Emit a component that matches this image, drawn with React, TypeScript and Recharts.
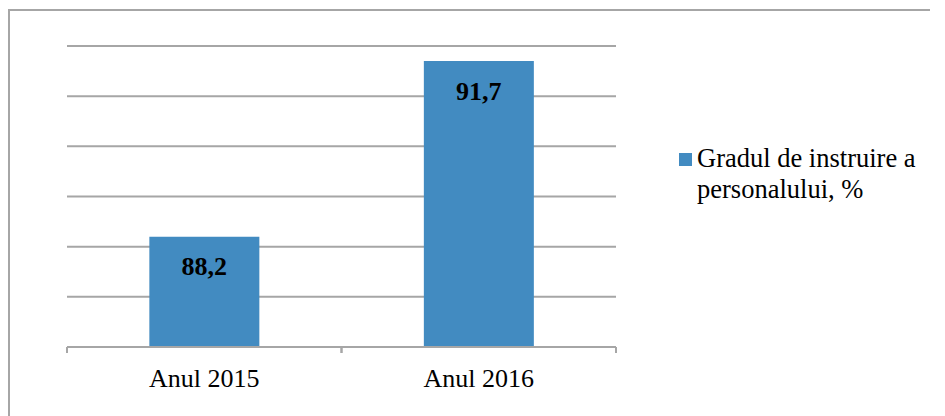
import React from 'react';
import { BarChart, Bar, XAxis, YAxis, CartesianGrid, Legend, LabelList } from 'recharts';

// Date
const categories = ['Anul 2015', 'Anul 2016'];
const values = [88.2, 91.7];
const seriesName = 'Gradul de instruire a personalului, %';
const yTicks = [86, 87, 88, 89, 90, 91, 92];

const data = categories.map((name, i) => ({ name, value: values[i] }));

const FONT = "'Liberation Serif', 'DejaVu Serif', serif";
const GRID = '#a6a6a6';
const BAR = '#428bc1';

const W = 900;
const H = 396;
const margin = { top: 35, right: 294, bottom: 0, left: 57 };
const halfBand = (W - margin.left - margin.right) / categories.length / 2;

const fmt = (v: any) => Number(v).toFixed(1).replace('.', ',');

// tick cu liniute la marginile categoriilor, ca in Excel
const AxisTick = (props: any) => {
  const { x, y, payload } = props;
  return (
    <g>
      <line x1={x - halfBand} x2={x - halfBand} y1={y - 6} y2={y} stroke={GRID} strokeWidth={2} />
      <line x1={x + halfBand} x2={x + halfBand} y1={y - 6} y2={y} stroke={GRID} strokeWidth={2} />
      <text x={x} y={y + 34} textAnchor="middle" style={{ fontFamily: FONT }} fontSize={26} fill="#000">
        {payload.value}
      </text>
    </g>
  );
};

const LegendBox = () => (
  <div style={{ display: 'flex', alignItems: 'flex-start', fontFamily: FONT, fontSize: 26.5, lineHeight: '31px', color: '#000' }}>
    <div style={{ width: 13, height: 13, background: BAR, marginTop: 9.5, marginRight: 5, flexShrink: 0 }} />
    <div style={{ width: 235 }}>{seriesName}</div>
  </div>
);

export default function App() {
  return (
    <div style={{ width: 937, height: 408, paddingTop: 1, boxSizing: 'border-box', overflow: 'hidden' }}>
      <style>{'html, body { overflow: hidden; }'}</style>
      <div style={{ width: 922, height: 407, borderTop: `2px solid ${GRID}`, borderLeft: `2px solid ${GRID}`, boxSizing: 'border-box', fontFamily: FONT }}>
        <BarChart width={W} height={H} data={data} margin={margin} barCategoryGap="30%" style={{ fontFamily: FONT }}>
          <CartesianGrid vertical={false} stroke={GRID} strokeWidth={2} />
          <YAxis hide type="number" domain={[86, 92]} ticks={yTicks} />
          <XAxis
            dataKey="name"
            height={60}
            axisLine={{ stroke: GRID, strokeWidth: 2 }}
            tickLine={false}
            tickSize={6}
            tickMargin={0}
            tick={<AxisTick />}
            interval={0}
          />
          <Legend
            layout="vertical"
            align="center"
            verticalAlign="middle"
            wrapperStyle={{ left: 669, top: 132, width: 255 }}
            content={() => <LegendBox />}
          />
          <Bar dataKey="value" name={seriesName} fill={BAR} isAnimationActive={false}>
            <LabelList
              dataKey="value"
              position="insideTop"
              offset={20}
              formatter={fmt}
              fill="#000"
              style={{ fontFamily: FONT, fontWeight: 'bold' }}
              fontSize={26}
            />
          </Bar>
        </BarChart>
      </div>
    </div>
  );
}
